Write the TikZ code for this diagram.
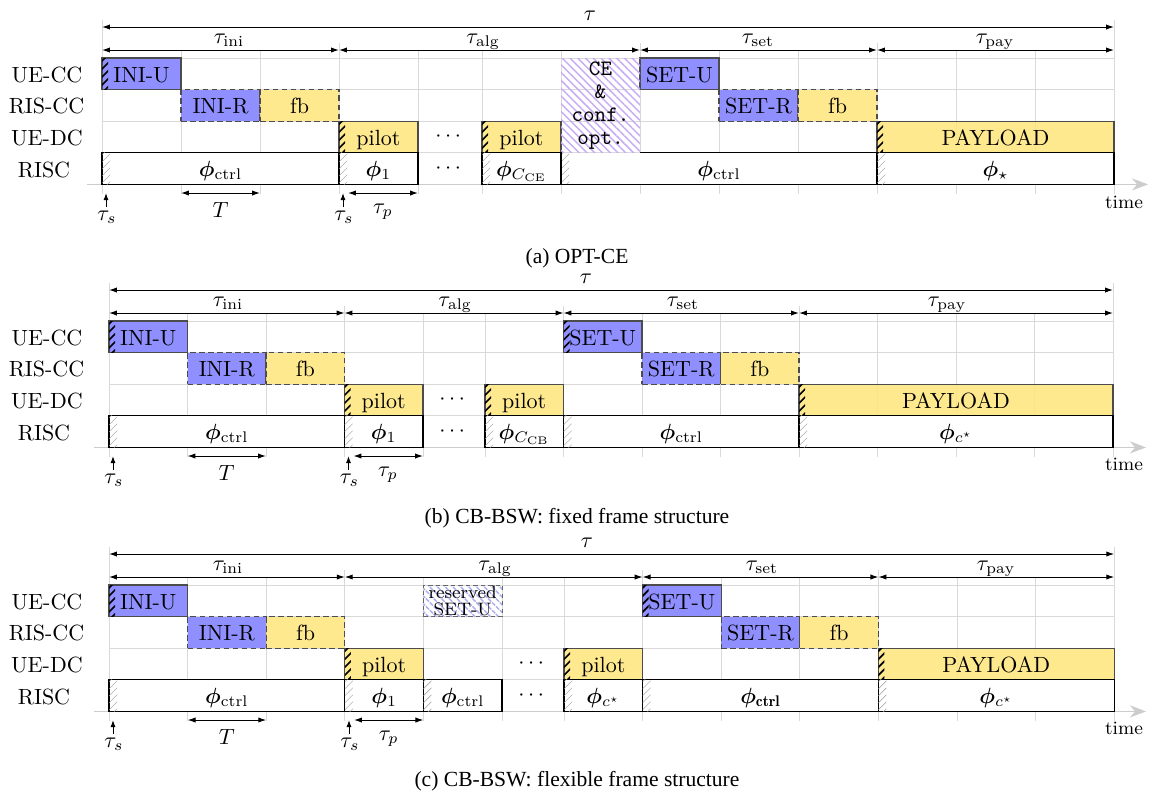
\RequirePackage{fix-cm}
\documentclass[tikz,border=0pt]{standalone}
\usepackage{amsmath,bm}
\usepackage{fontspec}
\newfontfamily\capfont{Liberation Serif}
\usetikzlibrary{patterns.meta,arrows.meta}
\definecolor{cblue}{RGB}{128,128,255}
\definecolor{cyel}{RGB}{255,230,128}
\definecolor{cevio}{RGB}{200,170,244}
\definecolor{cres}{RGB}{170,175,238}
\newcommand\PX{0.4545pt}
\newcommand\hatchK[2]{\begin{scope}\clip (#1,#2) rectangle ++(6,31.6);\foreach \hh in {0,...,5}{\draw[line width=0.75pt,black] ({#1-3},{#2+\hh*8+6}) -- ++(12,-12);}\end{scope}}
\newcommand\hatchG[2]{\begin{scope}\clip (#1,#2) rectangle ++(8,31.6);\foreach \hh in {0,...,5}{\draw[line width=0.2pt,black!40] ({#1-3},{#2+\hh*7+5}) -- ++(14,-14);}\end{scope}}
\tikzset{
  cell/.style={inner sep=0pt, outer sep=0pt, minimum height=31.6*\PX, anchor=north west, text height=7.7pt, text depth=0pt, font=\normalsize, fill opacity=0.88, text opacity=1, draw opacity=1},
  uec/.style={cell, draw=black!70, line width=0.5pt, fill=cblue},
  risb/.style={cell, draw=black!70, line width=0.5pt, dashed, dash pattern=on 2.5pt off 1.6pt},
  bl/.style={fill=cblue},
  yl/.style={fill=cyel},
  phib/.style={cell, draw=black, line width=0.5pt, fill=white, fill opacity=1, text height=6.8pt},
  phibn/.style={cell, fill=white, fill opacity=1, text height=6.8pt},
  risline/.style={draw=black, line width=0.5pt},
  gridl/.style={draw=black!15, line width=0.4pt},
  axisl/.style={draw=black!20, line width=0.75pt, arrows={-Stealth[length=7.3pt,width=5.5pt]}},
  dim/.style={line width=0.45pt, arrows={Latex[length=3.6pt,width=2.4pt]-Latex[length=3.6pt,width=2.4pt]}},
  uparr/.style={line width=0.45pt, arrows={-Latex[length=3.2pt,width=2.3pt]}},
  lab/.style={inner sep=0pt, anchor=base, font=\normalsize},
  rowlab/.style={inner sep=0pt, text height=7.7pt, text depth=0pt, font=\normalsize},
  dotn/.style={inner sep=0pt, font=\normalsize},
  timelab/.style={inner sep=0pt, anchor=base, font=\fontsize{8.6}{10}\selectfont},
  caplab/.style={inner sep=0pt, anchor=base, font=\capfont\fontsize{9.8}{11.5}\selectfont},
  ceb/.style={inner sep=0pt, outer sep=0pt, anchor=north west, align=center, pattern={Lines[angle=-45,distance=2.5pt,line width=0.65pt]}, pattern color=cevio, font=\ttfamily\fontsize{10}{10.5}\selectfont},
  resb/.style={inner sep=0pt, outer sep=0pt, anchor=north west, align=center, minimum height=31.6*\PX, draw=black!60, line width=0.4pt, dashed, dash pattern=on 2pt off 1.4pt, pattern={Lines[angle=-45,distance=2.5pt,line width=0.65pt]}, pattern color=cres, font=\fontsize{8.2}{7.8}\selectfont},
}
\begin{document}
\begin{tikzpicture}[x=0.4545pt,y=-0.4545pt]
\useasboundingbox (0,0) rectangle (1154,795);

% ================= (a) =================
\begin{scope}[shift={(0,58)}]
\foreach \xx in {181,260,418,482,561,719,798,956,1035} \draw[gridl] (\xx,-8) -- (\xx,136);
\foreach \xx in {339,640,877} \draw[gridl] (\xx,-15) -- (\xx,136);
\foreach \xx in {102,1114} \draw[gridl] (\xx,-38) -- (\xx,136);
\foreach \yy in {0,31.6,63.2,94.8} \draw[gridl] (102,\yy) -- (1114,\yy);
\coordinate (a-ax0) at (87,126.4); \coordinate (a-ax1) at (1148,126.4);
\draw[axisl] (a-ax0) -- (a-ax1);
\node[rowlab] (a-l1) at (47,15.8) {UE-CC};
\node[rowlab] (a-l2) at (46.5,47.4) {RIS-CC};
\node[rowlab] (a-l3) at (47,79) {UE-DC};
\node[rowlab] (a-l4) at (44,110.6) {RISC};
% UE-CC
\node[uec, minimum width=79*\PX] (a-iniu) at (102,0) {INI-U}; \hatchK{102}{0}
\node[uec, minimum width=79*\PX] (a-setu) at (640,0) {SET-U};
% RIS-CC
\node[risb, bl, minimum width=79*\PX] (a-inir) at (181,31.6) {INI-R};
\node[risb, yl, minimum width=79*\PX] (a-fb1) at (260,31.6) {fb};
\node[risb, bl, minimum width=79*\PX] (a-setr) at (719,31.6) {SET-R};
\node[risb, yl, minimum width=79*\PX] (a-fb2) at (798,31.6) {fb};
% UE-DC
\node[uec, yl, minimum width=79*\PX] (a-p1) at (339,63.2) {pilot}; \hatchK{339}{63.2}
\node[dotn] (a-d1) at (450,79) {$\cdots$};
\node[uec, yl, minimum width=79*\PX] (a-p2) at (482,63.2) {pilot}; \hatchK{482}{63.2}
\node[uec, yl, minimum width=237*\PX] (a-pay) at (877,63.2) {PAYLOAD}; \hatchK{877}{63.2}
% RISC
\node[phib, minimum width=237*\PX] (a-r1) at (102,94.8) {$\bm{\phi}_{\mathrm{ctrl}}$}; \hatchG{102}{94.8}
\node[phib, minimum width=79*\PX] (a-r2) at (339,94.8) {$\bm{\phi}_{1}$}; \hatchG{339}{94.8}
\node[dotn] (a-d2) at (450,110.6) {$\cdots$};
\node[phib, minimum width=79*\PX] (a-r3) at (482,94.8) {$\bm{\phi}_{C_{\mathrm{CE}}}$}; \hatchG{482}{94.8}
\node[phibn, minimum width=316*\PX] (a-r4) at (561,94.8) {$\bm{\phi}_{\mathrm{ctrl}}$}; \hatchG{561}{94.8}
\draw[risline] (640,94.8) -- (877,94.8) -- (877,126.4) -- (561,126.4) -- (561,94.8);
% CE block
\node[ceb, minimum width=79*\PX, minimum height=94.8*\PX] (a-ce) at (561,0) {CE\\\&\\conf.\\opt.};
\node[phib, minimum width=237*\PX] (a-r5) at (877,94.8) {$\bm{\phi}_{\star}$}; \hatchG{877}{94.8}
% top dims
\coordinate (a-t0) at (102,-31); \coordinate (a-t1) at (1114,-31);
\draw[dim] (a-t0) -- (a-t1);
\node[lab] (a-tau) at (590,-38) {$\tau$};
\coordinate (a-s0) at (102,-8); \coordinate (a-s1) at (339,-8); \coordinate (a-s2) at (640,-8);
\coordinate (a-s3) at (877,-8); \coordinate (a-s4) at (1114,-8);
\draw[dim] (a-s0) -- (a-s1); \draw[dim] (a-s1) -- (a-s2); \draw[dim] (a-s2) -- (a-s3); \draw[dim] (a-s3) -- (a-s4);
\node[lab] (a-tini) at (229,-15) {$\tau_{\mathrm{ini}}$};
\node[lab] (a-talg) at (483,-15) {$\tau_{\mathrm{alg}}$};
\node[lab] (a-tset) at (758,-15) {$\tau_{\mathrm{set}}$};
\node[lab] (a-tpay) at (995,-15) {$\tau_{\mathrm{pay}}$};
% bottom dims
\coordinate (a-b1) at (106,149); \coordinate (a-b2) at (106,135);
\draw[uparr] (a-b1) -- (a-b2);
\node[lab] (a-ts1) at (107,162) {$\tau_s$};
\coordinate (a-T0) at (181,135); \coordinate (a-T1) at (260,135);
\draw[dim] (a-T0) -- (a-T1);
\node[lab] (a-T) at (220.5,159) {$T$};
\coordinate (a-b3) at (343,149); \coordinate (a-b4) at (343,135);
\draw[uparr] (a-b3) -- (a-b4);
\node[lab] (a-ts2) at (344,162) {$\tau_s$};
\coordinate (a-P0) at (348,135); \coordinate (a-P1) at (418,135);
\draw[dim] (a-P0) -- (a-P1);
\node[lab] (a-tp) at (383,155) {$\tau_p$};
\node[timelab] (a-time) at (1124,150) {time};
\end{scope}
\node[caplab] (capa) at (577,263) {(a) OPT-CE};

% ================= (b) =================
\begin{scope}[shift={(0,321)}]
\foreach \xx in {187.5,266,423,485,642,720.5,877.5,956,1034.5} \draw[gridl] (\xx,-8) -- (\xx,136);
\foreach \xx in {344.5,563.5,799} \draw[gridl] (\xx,-15) -- (\xx,136);
\foreach \xx in {109,1113} \draw[gridl] (\xx,-38) -- (\xx,136);
\foreach \yy in {0,31.6,63.2,94.8} \draw[gridl] (109,\yy) -- (1113,\yy);
\coordinate (b-ax0) at (94,126.4); \coordinate (b-ax1) at (1146,126.4);
\draw[axisl] (b-ax0) -- (b-ax1);
\node[rowlab] (b-l1) at (47,15.8) {UE-CC};
\node[rowlab] (b-l2) at (46.5,47.4) {RIS-CC};
\node[rowlab] (b-l3) at (47,79) {UE-DC};
\node[rowlab] (b-l4) at (44,110.6) {RISC};
% UE-CC
\node[uec, minimum width=78.5*\PX] (b-iniu) at (109,0) {INI-U}; \hatchK{109}{0}
\node[uec, minimum width=78.5*\PX] (b-setu) at (563.5,0) {SET-U}; \hatchK{563.5}{0}
% RIS-CC
\node[risb, bl, minimum width=78.5*\PX] (b-inir) at (187.5,31.6) {INI-R};
\node[risb, yl, minimum width=78.5*\PX] (b-fb1) at (266,31.6) {fb};
\node[risb, bl, minimum width=78.5*\PX] (b-setr) at (642,31.6) {SET-R};
\node[risb, yl, minimum width=78.5*\PX] (b-fb2) at (720.5,31.6) {fb};
% UE-DC
\node[uec, yl, minimum width=78.5*\PX] (b-p1) at (344.5,63.2) {pilot}; \hatchK{344.5}{63.2}
\node[dotn] (b-d1) at (454,79) {$\cdots$};
\node[uec, yl, minimum width=78.5*\PX] (b-p2) at (485,63.2) {pilot}; \hatchK{485}{63.2}
\node[uec, yl, minimum width=314*\PX] (b-pay) at (799,63.2) {PAYLOAD}; \hatchK{799}{63.2}
% RISC
\node[phib, minimum width=235.5*\PX] (b-r1) at (109,94.8) {$\bm{\phi}_{\mathrm{ctrl}}$}; \hatchG{109}{94.8}
\node[phib, minimum width=78.5*\PX] (b-r2) at (344.5,94.8) {$\bm{\phi}_{1}$}; \hatchG{344.5}{94.8}
\node[dotn] (b-d2) at (454,110.6) {$\cdots$};
\node[phib, minimum width=78.5*\PX] (b-r3) at (485,94.8) {$\bm{\phi}_{C_{\mathrm{CB}}}$}; \hatchG{485}{94.8}
\node[phib, minimum width=235.5*\PX] (b-r4) at (563.5,94.8) {$\bm{\phi}_{\mathrm{ctrl}}$}; \hatchG{563.5}{94.8}
\node[phib, minimum width=314*\PX] (b-r5) at (799,94.8) {$\bm{\phi}_{c^\star}$}; \hatchG{799}{94.8}
% top dims
\coordinate (b-t0) at (109,-31); \coordinate (b-t1) at (1113,-31);
\draw[dim] (b-t0) -- (b-t1);
\node[lab] (b-tau) at (586,-38) {$\tau$};
\coordinate (b-s0) at (109,-8); \coordinate (b-s1) at (344.5,-8); \coordinate (b-s2) at (563.5,-8);
\coordinate (b-s3) at (799,-8); \coordinate (b-s4) at (1113,-8);
\draw[dim] (b-s0) -- (b-s1); \draw[dim] (b-s1) -- (b-s2); \draw[dim] (b-s2) -- (b-s3); \draw[dim] (b-s3) -- (b-s4);
\node[lab] (b-tini) at (228,-15) {$\tau_{\mathrm{ini}}$};
\node[lab] (b-talg) at (455,-15) {$\tau_{\mathrm{alg}}$};
\node[lab] (b-tset) at (683,-15) {$\tau_{\mathrm{set}}$};
\node[lab] (b-tpay) at (947,-15) {$\tau_{\mathrm{pay}}$};
% bottom dims
\coordinate (b-b1) at (113,149); \coordinate (b-b2) at (113,135);
\draw[uparr] (b-b1) -- (b-b2);
\node[lab] (b-ts1) at (114,162) {$\tau_s$};
\coordinate (b-T0) at (187.5,135); \coordinate (b-T1) at (266,135);
\draw[dim] (b-T0) -- (b-T1);
\node[lab] (b-T) at (226.7,159) {$T$};
\coordinate (b-b3) at (348.5,149); \coordinate (b-b4) at (348.5,135);
\draw[uparr] (b-b3) -- (b-b4);
\node[lab] (b-ts2) at (349.5,162) {$\tau_s$};
\coordinate (b-P0) at (353.5,135); \coordinate (b-P1) at (423,135);
\draw[dim] (b-P0) -- (b-P1);
\node[lab] (b-tp) at (388,155) {$\tau_p$};
\node[timelab] (b-time) at (1124,149) {time};
\end{scope}
\node[caplab] (capb) at (577,523) {(b) CB-BSW: fixed frame structure};

% ================= (c) =================
\begin{scope}[shift={(0,585)}]
\foreach \xx in {187.6,266.2,423.4,502,564,721.2,799.8,957,1035.6} \draw[gridl] (\xx,-8) -- (\xx,136);
\foreach \xx in {344.8,642.6,878.4} \draw[gridl] (\xx,-15) -- (\xx,136);
\foreach \xx in {109,1114.2} \draw[gridl] (\xx,-38) -- (\xx,136);
\foreach \yy in {0,31.6,63.2,94.8} \draw[gridl] (109,\yy) -- (1114.2,\yy);
\coordinate (c-ax0) at (94,126.4); \coordinate (c-ax1) at (1146,126.4);
\draw[axisl] (c-ax0) -- (c-ax1);
\node[rowlab] (c-l1) at (47,15.8) {UE-CC};
\node[rowlab] (c-l2) at (46.5,47.4) {RIS-CC};
\node[rowlab] (c-l3) at (47,79) {UE-DC};
\node[rowlab] (c-l4) at (44,110.6) {RISC};
% UE-CC
\node[uec, minimum width=78.6*\PX] (c-iniu) at (109,0) {INI-U}; \hatchK{109}{0}
\node[resb, minimum width=78.6*\PX] (c-res) at (423.4,0) {reserved\\SET-U};
\node[uec, minimum width=78.6*\PX] (c-setu) at (642.6,0) {SET-U}; \hatchK{642.6}{0}
% RIS-CC
\node[risb, bl, minimum width=78.6*\PX] (c-inir) at (187.6,31.6) {INI-R};
\node[risb, yl, minimum width=78.6*\PX] (c-fb1) at (266.2,31.6) {fb};
\node[risb, bl, minimum width=78.6*\PX] (c-setr) at (721.2,31.6) {SET-R};
\node[risb, yl, minimum width=78.6*\PX] (c-fb2) at (799.8,31.6) {fb};
% UE-DC
\node[uec, yl, minimum width=78.6*\PX] (c-p1) at (344.8,63.2) {pilot}; \hatchK{344.8}{63.2}
\node[dotn] (c-d1) at (533,79) {$\cdots$};
\node[uec, yl, minimum width=78.6*\PX] (c-p2) at (564,63.2) {pilot}; \hatchK{564}{63.2}
\node[uec, yl, minimum width=235.8*\PX] (c-pay) at (878.4,63.2) {PAYLOAD}; \hatchK{878.4}{63.2}
% RISC
\node[phib, minimum width=235.8*\PX] (c-r1) at (109,94.8) {$\bm{\phi}_{\mathrm{ctrl}}$}; \hatchG{109}{94.8}
\node[phib, minimum width=78.6*\PX] (c-r2) at (344.8,94.8) {$\bm{\phi}_{1}$}; \hatchG{344.8}{94.8}
\node[phib, minimum width=78.6*\PX] (c-r3) at (423.4,94.8) {$\bm{\phi}_{\mathrm{ctrl}}$}; \hatchG{423.4}{94.8}
\node[dotn] (c-d2) at (533,110.6) {$\cdots$};
\node[phib, minimum width=78.6*\PX] (c-r4) at (564,94.8) {$\bm{\phi}_{c^\star}$}; \hatchG{564}{94.8}
\node[phib, minimum width=235.8*\PX] (c-r5) at (642.6,94.8) {$\bm{\phi}_{\mathbf{ctrl}}$}; \hatchG{642.6}{94.8}
\node[phib, minimum width=235.8*\PX] (c-r6) at (878.4,94.8) {$\bm{\phi}_{c^\star}$}; \hatchG{878.4}{94.8}
% top dims
\coordinate (c-t0) at (109,-31); \coordinate (c-t1) at (1114.2,-31);
\draw[dim] (c-t0) -- (c-t1);
\node[lab] (c-tau) at (587,-38) {$\tau$};
\coordinate (c-s0) at (109,-8); \coordinate (c-s1) at (344.8,-8); \coordinate (c-s2) at (642.6,-8);
\coordinate (c-s3) at (878.4,-8); \coordinate (c-s4) at (1114.2,-8);
\draw[dim] (c-s0) -- (c-s1); \draw[dim] (c-s1) -- (c-s2); \draw[dim] (c-s2) -- (c-s3); \draw[dim] (c-s3) -- (c-s4);
\node[lab] (c-tini) at (228,-15) {$\tau_{\mathrm{ini}}$};
\node[lab] (c-talg) at (495,-15) {$\tau_{\mathrm{alg}}$};
\node[lab] (c-tset) at (762,-15) {$\tau_{\mathrm{set}}$};
\node[lab] (c-tpay) at (996,-15) {$\tau_{\mathrm{pay}}$};
% bottom dims
\coordinate (c-b1) at (113,149); \coordinate (c-b2) at (113,135);
\draw[uparr] (c-b1) -- (c-b2);
\node[lab] (c-ts1) at (114,162) {$\tau_s$};
\coordinate (c-T0) at (187.6,135); \coordinate (c-T1) at (266.2,135);
\draw[dim] (c-T0) -- (c-T1);
\node[lab] (c-T) at (226.9,159) {$T$};
\coordinate (c-b3) at (349,149); \coordinate (c-b4) at (349,135);
\draw[uparr] (c-b3) -- (c-b4);
\node[lab] (c-ts2) at (350,162) {$\tau_s$};
\coordinate (c-P0) at (354,135); \coordinate (c-P1) at (423.4,135);
\draw[dim] (c-P0) -- (c-P1);
\node[lab] (c-tp) at (388.7,155) {$\tau_p$};
\node[timelab] (c-time) at (1124,149) {time};
\end{scope}
\node[caplab] (capc) at (577,786) {(c) CB-BSW: flexible frame structure};
\end{tikzpicture}
\end{document}
